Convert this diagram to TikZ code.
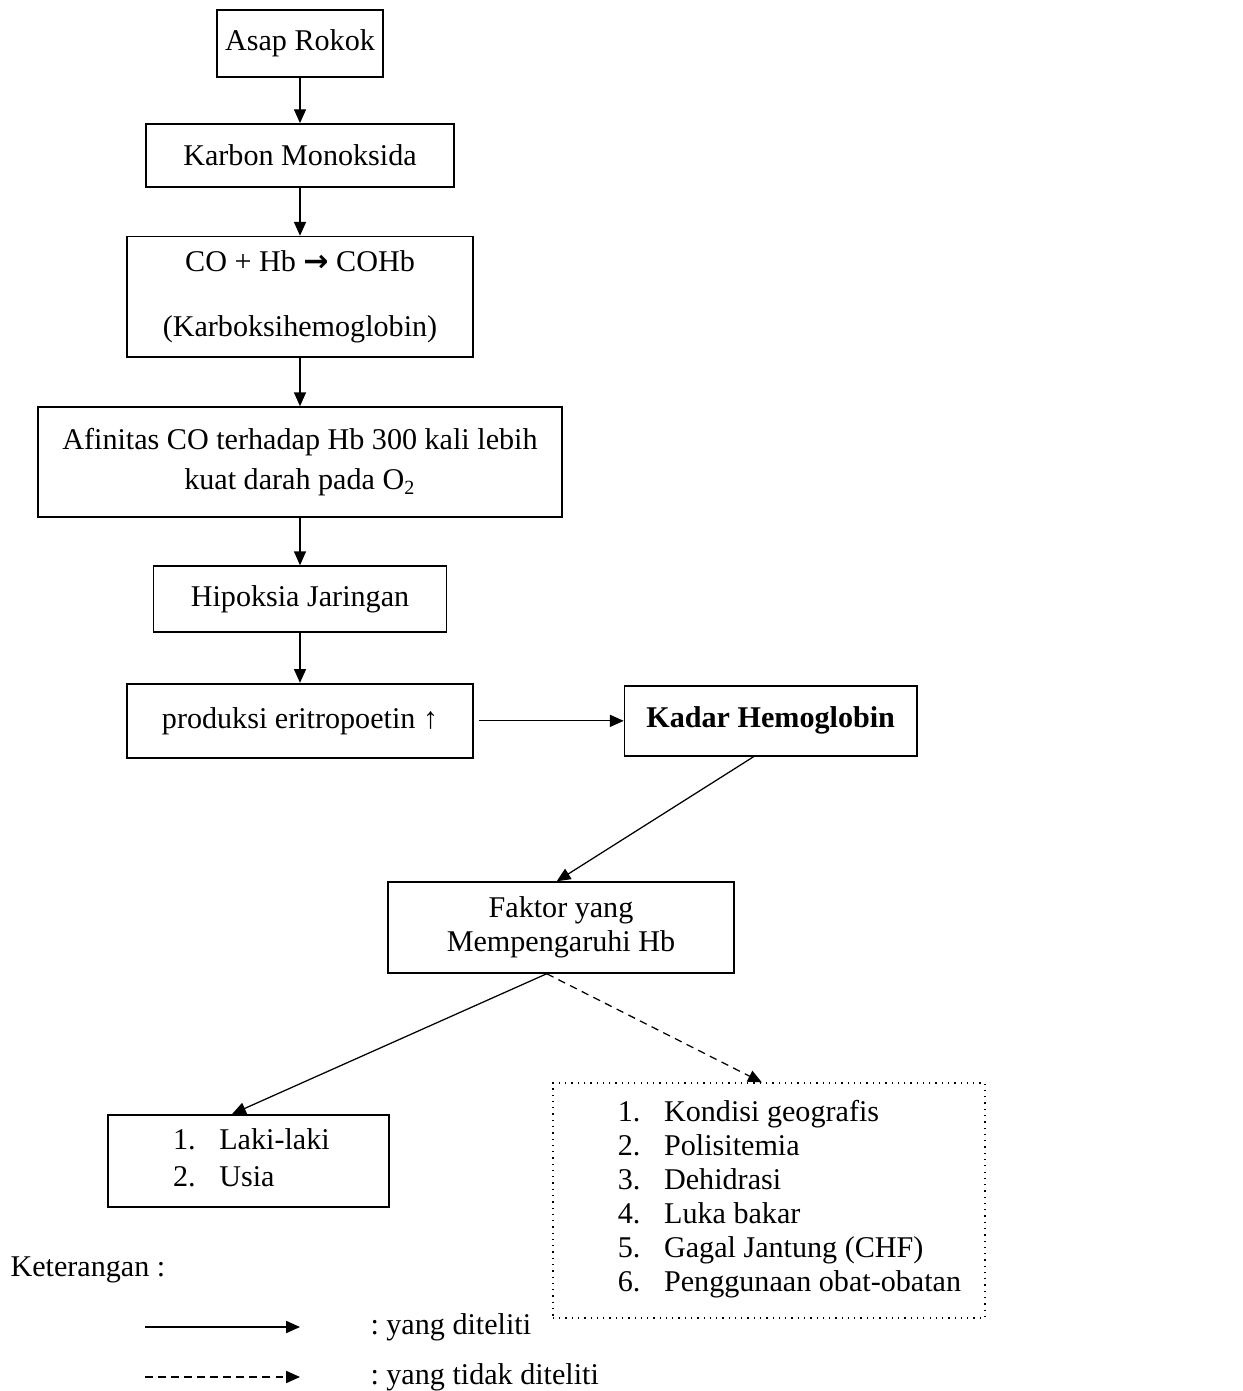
\documentclass[tikz,border=0pt]{standalone}
\usepackage{fontspec}
\setmainfont{Liberation Serif}
\newfontfamily\arrowfont{DejaVu Sans}
\usetikzlibrary{positioning,arrows.meta}
\frenchspacing

\begin{document}
\begin{tikzpicture}[
        font=\fontsize{12}{13.6}\selectfont,
        flow_box/.style={rectangle, draw=black, line width=0.7pt, inner sep=0pt, align=center},
        list_box/.style={rectangle, draw=black, line width=0.7pt, inner sep=0pt, align=left},
        other_box/.style={rectangle, draw=black, line width=0.5pt, dotted, inner sep=0pt},
        flow_arrow/.style={-{Triangle[length=5.5pt,width=4.8pt]}, line width=0.5pt},
        other_arrow/.style={-{Triangle[length=5.5pt,width=4.8pt]}, line width=0.5pt, dash pattern=on 3pt off 2.2pt},
        legend_text/.style={anchor=west, inner sep=0pt}
        ]
            % page
            \useasboundingbox (0,0) rectangle (17.402,-19.474);

            % chain
            \node[flow_box, minimum width=2.32cm, minimum height=0.94cm] (asap) at (4.2,-0.609) {Asap Rokok};
            \node[flow_box, minimum width=4.31cm, minimum height=0.88cm] (karbon)   [below = 0.632cm of asap]     {Karbon Monoksida};
            \node[flow_box, minimum width=4.84cm, minimum height=1.69cm] (cohb)     [below = 0.672cm of karbon]   {CO + Hb {\arrowfont\bfseries →} COHb\\[12.4pt](Karboksihemoglobin)};
            \node[flow_box, minimum width=7.34cm, minimum height=1.54cm] (afinitas) [below = 0.672cm of cohb]     {Afinitas CO terhadap Hb 300 kali lebih\\[2.4pt]kuat darah pada O\textsubscript{2}};
            \node[flow_box, minimum width=4.10cm, minimum height=0.92cm] (hipoksia) [below = 0.662cm of afinitas] {Hipoksia Jaringan};
            \node[flow_box, minimum width=4.84cm, minimum height=1.04cm] (produksi) [below = 0.702cm of hipoksia] {produksi eritropoetin ↑};
            \node[flow_box, minimum width=4.09cm, minimum height=0.98cm] (kadar)    [right = 2.1cm of produksi]  {\textbf{Kadar Hemoglobin}};
            % factors
            \node[flow_box, minimum width=4.84cm, minimum height=1.27cm] (faktor) at (7.854,-12.985) {Faktor yang\\Mempengaruhi Hb};
            \node[list_box, text width=3.93cm, minimum height=1.29cm] (diteliti) at (3.479,-16.254)
                {\hspace*{0.91cm}\begin{tabular}{@{}p{18.4pt}@{}l@{}}1. & Laki-laki\\[1.2pt]2. & Usia\end{tabular}};
            \node[other_box] (tidak_diteliti) at (10.766,-16.807)
                {\parbox[c][3.29cm][t]{6.05cm}{\vspace*{0.2cm}\hspace*{0.91cm}\begin{tabular}[t]{@{}p{18.4pt}@{}l@{}}1. & Kondisi geografis\\2. & Polisitemia\\3. & Dehidrasi\\4. & Luka bakar\\5. & Gagal Jantung (CHF)\\6. & Penggunaan obat-obatan\end{tabular}}};

            % Lines
            \draw[flow_arrow] (asap) -- (karbon);
            \draw[flow_arrow] (karbon) -- (cohb);
            \draw[flow_arrow] (cohb) -- (afinitas);
            \draw[flow_arrow] (afinitas) -- (hipoksia);
            \draw[flow_arrow] (hipoksia) -- (produksi);
            \draw[flow_arrow, shorten <=0.07cm] (produksi) -- (kadar);
            \draw[flow_arrow] ([xshift=-0.24cm]kadar.south) -- ([xshift=-0.06cm]faktor.north);
            \draw[flow_arrow] ([xshift=-0.2cm]faktor.south) -- ([xshift=-0.23cm]diteliti.north);
            \draw[other_arrow] ([xshift=-0.2cm]faktor.south) -- ([xshift=-0.1cm]tidak_diteliti.north);

            % legend
            \node[legend_text] (keterangan) at (0.14,-17.78) {Keterangan :};
            \coordinate (leg_a1) at (2.03,-18.578);
            \coordinate (leg_a2) at (4.2,-18.578);
            \coordinate (leg_b1) at (2.03,-19.278);
            \coordinate (leg_b2) at (4.2,-19.278);
            \draw[flow_arrow] (leg_a1) -- (leg_a2);
            \draw[other_arrow] (leg_b1) -- (leg_b2);
            \node[legend_text] (leg_a_text) at (5.18,-18.578) {: yang diteliti};
            \node[legend_text] (leg_b_text) at (5.18,-19.278) {: yang tidak diteliti};
        \end{tikzpicture}
\end{document}
